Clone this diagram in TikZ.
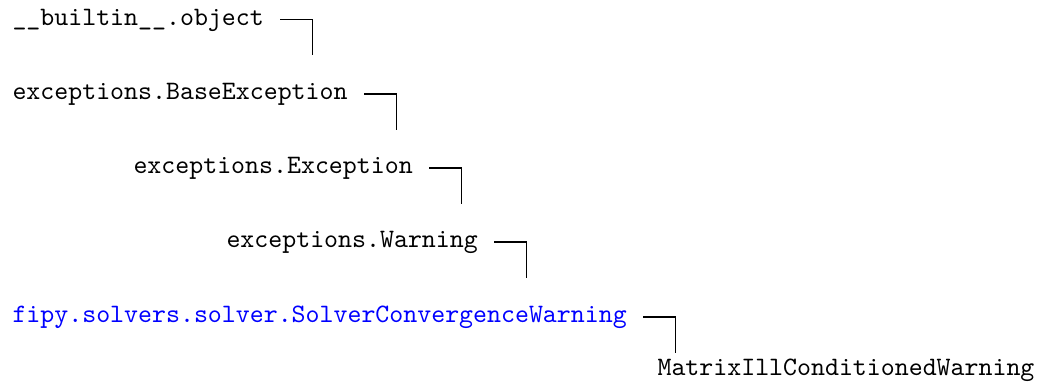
\documentclass[tikz,border=0pt]{standalone}
\usetikzlibrary{calc}
\begin{document}
\begin{tikzpicture}[x=0.3761pt,y=-0.3761pt,font=\ttfamily,inner sep=0pt,
  cls/.style={anchor=mid west},
  link/.style={line width=0.4pt}]
\useasboundingbox (0,0) rectangle (1038,388);
\node [cls] (obj) at (12,19.3) {\_\_builtin\_\_.object};
\node [cls] (base) at (12,94) {exceptions.BaseException};
\node [cls] (exc) at (133,168) {exceptions.Exception};
\node [cls] (warn) at (226,242) {exceptions.Warning};
\node [cls,blue] (conv) at (12,317) {fipy.solvers.solver.SolverConvergenceWarning};
\node [cls] (ill) at (657,369.5) {MatrixIllConditionedWarning};
% free ends of the tree connectors
\foreach \n in {obj,base,exc,warn,conv}
  \coordinate (\n-end) at ($(\n.mid east)+(48,36)$);
\foreach \n in {obj,base,exc,warn,conv}
  \draw [link] ($(\n.mid east)+(16,0)$) -| (\n-end);
\end{tikzpicture}
\end{document}
